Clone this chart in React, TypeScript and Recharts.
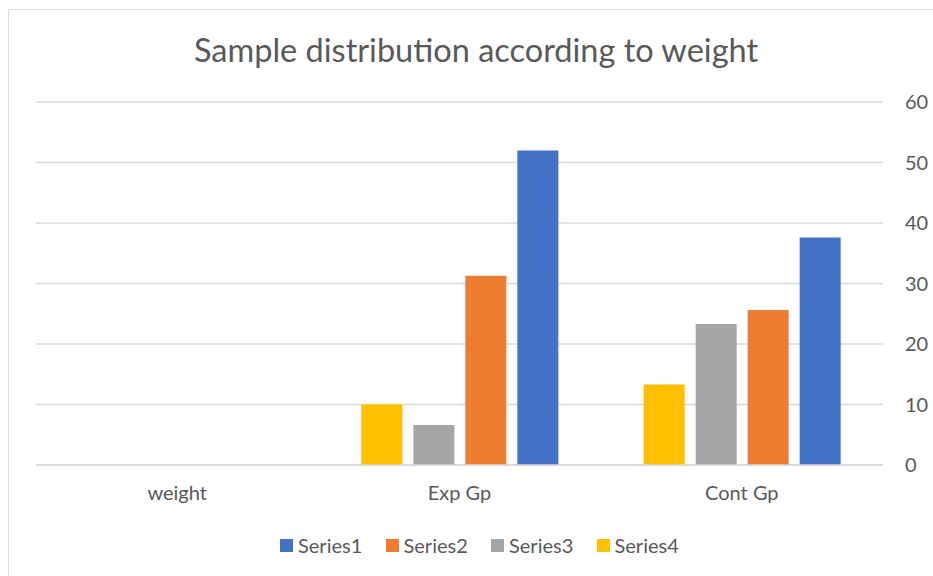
import React from 'react';
import { BarChart, Bar, XAxis, YAxis, CartesianGrid, Legend } from 'recharts';

const categories = ['weight', 'Exp Gp', 'Cont Gp'];
const series1 = [null, 52, 37.6];
const series2 = [null, 31.3, 25.6];
const series3 = [null, 6.6, 23.3];
const series4 = [null, 10, 13.3];
const yTicks = [0, 10, 20, 30, 40, 50, 60];
const seriesNames = ['Series1', 'Series2', 'Series3', 'Series4'];
const seriesColors = ['#4472C4', '#ED7D31', '#A5A5A5', '#FFC000'];
const title = 'Sample distribution according to weight';

const data = categories.map((name, i) => ({
  name,
  Series1: series1[i],
  Series2: series2[i],
  Series3: series3[i],
  Series4: series4[i],
}));

const TEXT = '#595959';
const GRID = '#d9d9d9';
const FONT = 'Lato, "Open Sans", sans-serif';

const renderLegend = () => (
  <div style={{ display: 'flex', alignItems: 'center', height: 22, fontFamily: FONT }}>
    {seriesNames.map((n, i) => (
      <div key={n} style={{ width: 105.5, display: 'flex', alignItems: 'center' }}>
        <span style={{ display: 'inline-block', width: 13, height: 13, background: seriesColors[i], marginRight: 5 }} />
        <span style={{ fontSize: 20, color: TEXT }}>{n}</span>
      </div>
    ))}
  </div>
);

export default function App() {
  const barOrder = [3, 2, 1, 0];
  return (
    <div
      style={{
        position: 'fixed',
        left: 8,
        top: 9,
        width: 925,
        height: 567,
        borderLeft: `1px solid ${GRID}`,
        borderTop: `1px solid ${GRID}`,
        boxSizing: 'border-box',
        overflow: 'hidden',
        fontFamily: FONT,
        background: '#fff',
      }}
    >
      <div
        style={{
          position: 'absolute',
          left: 0,
          top: 24,
          width: 934,
          textAlign: 'center',
          fontSize: 32.5,
          lineHeight: '32px',
          color: TEXT,
          fontFamily: FONT,
          zIndex: 2,
        }}
      >
        {title}
      </div>
      <BarChart
        width={924}
        height={566}
        data={data}
        margin={{ top: 92, right: 5, left: 27, bottom: 71 }}
        barSize={41}
        barGap={11}
      >
        <CartesianGrid vertical={false} stroke={GRID} strokeWidth={1.3} />
        <XAxis
          dataKey="name"
          axisLine={{ stroke: GRID, strokeWidth: 1.3 }}
          tickLine={false}
          tickMargin={15}
          height={40}
          tick={{ fill: TEXT, fontSize: 20, fontFamily: FONT }}
          interval={0}
        />
        <YAxis
          orientation="right"
          width={45}
          domain={[0, 60]}
          ticks={yTicks}
          interval={0}
          axisLine={false}
          tickLine={false}
          tickMargin={16}
          tick={{ fill: TEXT, fontSize: 20, fontFamily: FONT }}
        />
        <Legend
          verticalAlign="middle"
          align="center"
          layout="horizontal"
          content={renderLegend}
          wrapperStyle={{ top: 524, left: 271, width: 430, height: 22 }}
        />
        {barOrder.map((i) => (
          <Bar
            key={seriesNames[i]}
            dataKey={seriesNames[i]}
            fill={seriesColors[i]}
            isAnimationActive={false}
          />
        ))}
      </BarChart>
    </div>
  );
}
